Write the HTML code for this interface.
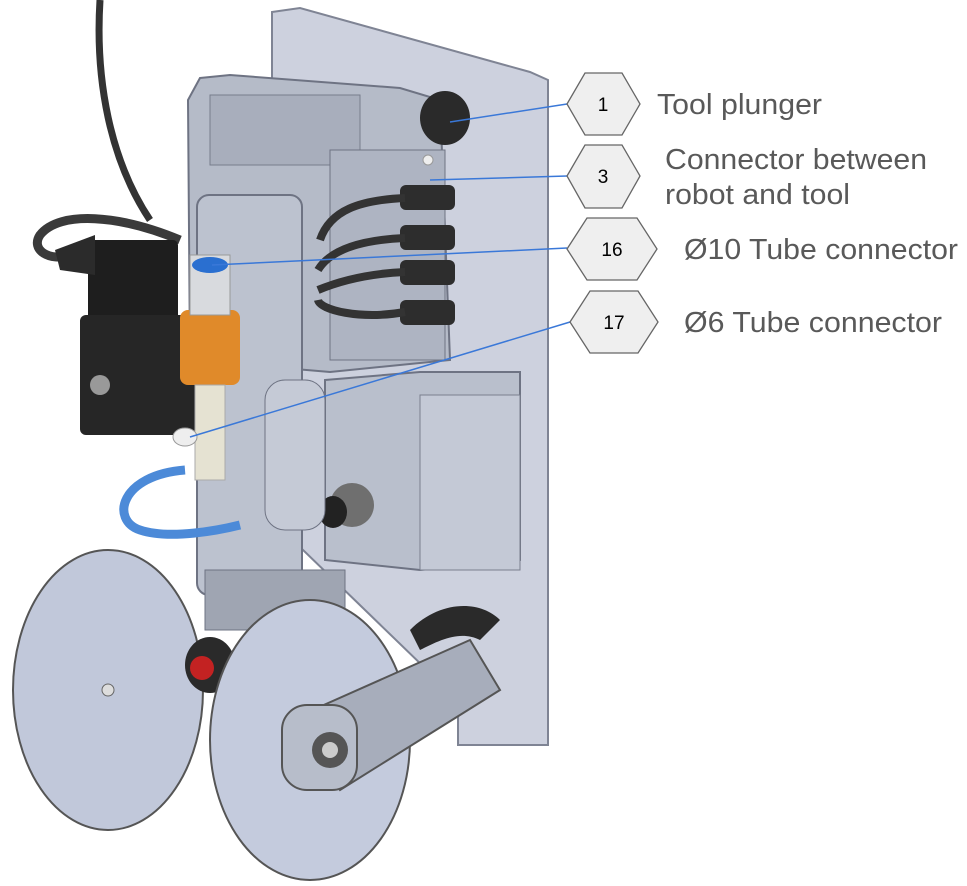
<!DOCTYPE html>
<html><head><meta charset="utf-8"><style>html,body{margin:0;padding:0;background:#fff}svg{display:block}</style></head>
<body>
<svg width="967" height="886" viewBox="0 0 967 886" xmlns="http://www.w3.org/2000/svg" font-family="Liberation Sans, sans-serif">
<!-- cable -->
<path d="M100 0 C95 80 110 160 150 220" stroke="#333" stroke-width="7" fill="none"/>
<path d="M180 240 C120 215 60 210 40 235 C30 250 50 262 70 255" stroke="#3a3a3a" stroke-width="9" fill="none"/>
<!-- back plate -->
<polygon points="272,12 300,8 530,72 548,80 548,745 458,745 458,700 272,520" fill="#cdd1de" stroke="#7f8494" stroke-width="2"/>
<!-- upper box -->
<polygon points="200,78 230,75 400,88 440,100 450,360 330,372 190,360 188,100" fill="#b5bbc8" stroke="#6e7383" stroke-width="2"/>
<rect x="210" y="95" width="150" height="70" fill="#a8aebc" stroke="#777d8c"/>
<rect x="330" y="150" width="115" height="210" fill="#aeb4c2" stroke="#6e7383"/>
<!-- connectors -->
<g fill="#2d2d2d">
<rect x="400" y="185" width="55" height="25" rx="6"/>
<rect x="400" y="225" width="55" height="25" rx="6"/>
<rect x="400" y="260" width="55" height="25" rx="6"/>
<rect x="400" y="300" width="55" height="25" rx="6"/>
</g>
<path d="M405 198 C360 200 330 210 320 240 M405 238 C360 240 330 250 318 270 M405 272 C360 274 330 285 318 290 M405 312 C360 320 320 310 318 300" stroke="#333" stroke-width="8" fill="none"/>
<!-- plunger -->
<ellipse cx="445" cy="118" rx="25" ry="27" fill="#2a2a2a"/>
<circle cx="428" cy="160" r="5" fill="#eee" stroke="#999"/>
<!-- lower box -->
<polygon points="325,380 420,372 520,372 520,560 420,570 325,560" fill="#b9bfcc" stroke="#6e7383" stroke-width="2"/>
<rect x="420" y="395" width="100" height="175" fill="#c4c9d6" stroke="#7a7f8e"/>
<circle cx="352" cy="505" r="22" fill="#6f6f6f"/><ellipse cx="333" cy="512" rx="14" ry="16" fill="#222"/>
<!-- vertical bracket -->
<rect x="197" y="195" width="105" height="400" rx="12" fill="#bcc2cf" stroke="#6e7383" stroke-width="2"/>
<rect x="265" y="380" width="60" height="150" rx="20" fill="#c5cad6" stroke="#6e7383"/>
<!-- solenoid -->
<rect x="88" y="240" width="90" height="80" rx="5" fill="#1e1e1e"/>
<rect x="80" y="315" width="115" height="120" rx="6" fill="#262626"/>
<polygon points="55,250 95,235 95,275 60,270" fill="#2b2b2b"/>
<circle cx="100" cy="385" r="10" fill="#999"/>
<!-- orange -->
<rect x="180" y="310" width="60" height="75" rx="8" fill="#e08a2a"/>
<rect x="190" y="255" width="40" height="60" fill="#d8dade" stroke="#999"/>
<ellipse cx="210" cy="265" rx="18" ry="8" fill="#2a6fd0"/>
<rect x="195" y="385" width="30" height="95" fill="#e5e2d2" stroke="#aaa"/>
<ellipse cx="185" cy="437" rx="12" ry="9" fill="#eee" stroke="#999"/>
<!-- blue tube -->
<path d="M185 470 C120 475 110 520 140 530 C170 540 220 530 240 525" stroke="#4c8ad8" stroke-width="9" fill="none"/>
<!-- left disk -->
<ellipse cx="108" cy="690" rx="95" ry="140" fill="#c1c8da" stroke="#555" stroke-width="2"/>
<circle cx="108" cy="690" r="6" fill="#ddd" stroke="#666"/>
<!-- middle parts -->
<rect x="205" y="570" width="140" height="60" fill="#9fa5b2" stroke="#6e7383"/>
<ellipse cx="210" cy="665" rx="25" ry="28" fill="#2a2a2a"/>
<circle cx="202" cy="668" r="12" fill="#c32222"/>
<!-- right disk -->
<ellipse cx="310" cy="740" rx="100" ry="140" fill="#c4cbdd" stroke="#555" stroke-width="2"/>
<!-- arm -->
<polygon points="290,720 470,640 500,690 340,790" fill="#a7adbb" stroke="#555" stroke-width="2"/>
<path d="M410 630 C440 600 480 600 500 620 L480 640 C460 630 440 640 420 650Z" fill="#2a2a2a"/>
<rect x="282" y="705" width="75" height="85" rx="25" fill="#b7bdca" stroke="#555" stroke-width="2"/>
<circle cx="330" cy="750" r="18" fill="#555"/><circle cx="330" cy="750" r="8" fill="#ccc"/>
<!-- connector lines -->
<g stroke="#3a78d8" stroke-width="1.5" fill="none">
<line x1="567" y1="104" x2="450" y2="122"/>
<line x1="567" y1="176" x2="430" y2="180"/>
<line x1="567" y1="248" x2="212" y2="265"/>
<line x1="570" y1="322" x2="190" y2="437"/>
</g>
<!-- hexagons -->
<g fill="#efefef" stroke="#666" stroke-width="1.3">
<polygon points="567,104 585,73 622,73 640,104 622,135 585,135"/>
<polygon points="567,176 585,145 622,145 640,176 622,208 585,208"/>
<polygon points="567,249 587,218 637,218 657,249 637,280 587,280"/>
<polygon points="570,322 590,291 638,291 658,322 638,353 590,353"/>
</g>
<g font-size="19" fill="#000" text-anchor="middle">
<text x="603" y="111">1</text>
<text x="603" y="183">3</text>
<text x="612" y="256">16</text>
<text x="614" y="329">17</text>
</g>
<g font-size="29" fill="#595959" lengthAdjust="spacingAndGlyphs">
<text x="657" y="114" textLength="165" lengthAdjust="spacingAndGlyphs">Tool plunger</text>
<text x="665" y="169" textLength="262" lengthAdjust="spacingAndGlyphs">Connector between</text>
<text x="665" y="204" textLength="185" lengthAdjust="spacingAndGlyphs">robot and tool</text>
<text x="684" y="259" textLength="274" lengthAdjust="spacingAndGlyphs">Ø10 Tube connector</text>
<text x="684" y="332" textLength="258" lengthAdjust="spacingAndGlyphs">Ø6 Tube connector</text>
</g>
</svg>
</body></html>
